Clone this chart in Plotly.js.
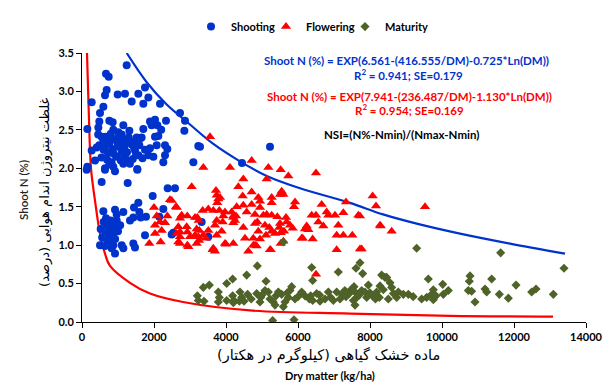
<!DOCTYPE html>
<html><head><meta charset="utf-8">
<script src="https://cdn.plot.ly/plotly-3.0.1.min.js"></script>
<style>html,body{margin:0;padding:0;background:#fff}#c{width:605px;height:386px}</style>
</head><body><div id="c"></div>
<script>
// ---------- data ----------
const shootDM = [1241,667,741,685,639,991,1194,1565,1750,1843,1380,1704,269,593,500,2167,2722,2861,2333,481,759,852,454,1889,2028,1935,2093,1148,148,870,1315,1704,2120,2028,1009,1102,546,759,1519,1657,2843,3278,2306,2370,2074,1889,1593,1426,1241,1056,269,407,2259,2306,1982,1843,1565,1472,1537,3093,148,361,639,870,1148,
480,600,760,880,1000,1130,1250,1380,1500,1620,1750,540,700,820,950,1080,1200,1330,1450,1560,1680,660,590,720,450,900,1050,1170,1300,1410,800,980,640,1100,850,760,2200,3231,4444,5222,
130,639,917,1537,546,1269,2380,2583,1963,1565,1444,2259,593,917,963,1148,1426,1593,1630,1778,2148,667,796,870,963,1333,519,704,778,824,639,731,870,1750,2537,3324,3509,500,639,870,824,1102,1148,1426,1472,917,2491,
700,760,820,890,950,600,740,680,800,920,560,1000,1060];
const shootN = [3.34,3.23,3.19,3.02,2.95,2.96,2.97,2.97,3.05,2.92,2.87,2.84,2.86,2.80,2.72,2.84,2.72,2.62,2.62,2.61,2.62,2.60,2.53,2.61,2.63,2.56,2.56,2.56,2.51,2.50,2.49,2.51,2.42,2.41,2.47,2.44,2.41,2.40,2.40,2.40,2.49,2.28,2.30,2.25,2.30,2.26,2.30,2.34,2.34,2.30,2.23,2.27,2.08,2.17,2.15,2.17,2.17,2.23,1.99,2.08,2.02,2.10,2.00,2.02,2.06,
2.30,2.24,2.33,2.19,2.28,2.36,2.21,2.31,2.17,2.39,2.24,2.14,2.11,2.08,2.15,2.10,2.13,2.06,2.26,2.31,2.13,2.41,2.37,2.20,2.44,2.38,2.43,2.27,2.40,2.12,2.45,2.34,2.28,2.20,2.25,2.05,2.50,2.29,2.07,2.28,
1.98,1.98,1.96,1.98,1.82,1.81,1.74,1.74,1.64,1.55,1.49,1.47,1.44,1.46,1.40,1.43,1.36,1.43,1.36,1.37,1.37,1.35,1.32,1.28,1.32,1.32,1.21,1.21,1.17,1.23,1.13,1.11,1.15,1.13,1.16,1.30,1.11,1.00,0.99,1.00,0.96,1.00,0.96,1.02,0.97,0.89,1.14,
1.27,1.25,1.30,1.20,1.24,1.30,1.05,1.08,1.10,1.08,1.10,1.18,1.26];

const flowerDM = [3556,3370,4111,4713,5176,5519,5731,6500,4481,5130,4343,5546,5500,5593,4713,4463,4898,4944,5269,5269,5917,5889,6657,7333,4713,4944,4296,4481,3833,3972,4157,4278,4204,4574,4805,5037,5130,5269,5426,5667,6380,6500,6796,6843,7028,7259,7676,6565,6704,7120,3907,4204,4481,4805,4870,5083,5204,5500,5481,5685,5778,5852,6241,6194,3880,4898,5269,5361,5519,5611,6287,7074,7259,7509,6102,6407,4528,4759,4944,5111,3972,4204,4759,4852,5222,5519,4620,7074,7722,
3047,3722,3741,3787,3759,2491,2611,2000,2074,2370,3352,3509,3648,3815,3204,3241,2722,2926,2167,2306,2028,2213,2676,2722,2907,3185,3259,3741,3694,3926,4204,4250,2630,2722,2926,3000,3139,3231,3370,3444,3741,3509,1870,2185,2676,2722,2926,2954,3185,3250,3648,3694,4000,
8074,8167,9528,8296,8602,7768,7722,8278,6500,3630,4806,5241,6130,5593,2444,2630,2028,2768,3139];
const flowerN = [2.41,2.01,2.01,2.10,2.01,1.98,1.90,1.94,1.86,1.86,1.76,1.70,1.66,1.66,1.69,1.64,1.62,1.57,1.62,1.55,1.56,1.50,1.53,1.56,1.53,1.49,1.50,1.52,1.62,1.43,1.43,1.38,1.36,1.43,1.40,1.39,1.40,1.39,1.37,1.36,1.39,1.39,1.43,1.39,1.39,1.42,1.39,1.30,1.25,1.26,1.30,1.29,1.23,1.28,1.30,1.26,1.23,1.28,1.23,1.30,1.26,1.22,1.25,1.21,1.18,1.18,1.18,1.15,1.16,1.18,1.20,1.13,1.13,1.13,1.09,1.08,1.09,1.09,1.08,1.13,1.02,1.02,1.00,0.99,0.94,1.02,0.92,0.94,0.95,
1.76,1.71,1.65,1.60,1.55,1.58,1.50,1.49,1.38,1.38,1.45,1.47,1.45,1.45,1.36,1.32,1.35,1.38,1.30,1.29,1.26,1.19,1.24,1.17,1.24,1.21,1.19,1.32,1.26,1.38,1.38,1.32,1.15,1.11,1.17,1.11,1.13,1.11,1.13,1.09,1.13,1.19,1.02,1.04,1.04,1.02,1.00,0.98,1.02,1.06,0.96,0.92,1.01,
1.64,1.51,1.50,1.25,1.18,0.95,1.38,1.26,0.62,0.94,1.00,0.94,1.09,1.05,1.59,1.49,1.15,1.39,1.36];

const maturityDM = [3204,3389,3537,3787,3815,3787,4019,4185,4019,4185,4222,4204,4389,4435,4500,4370,4574,4870,4852,4963,4944,5083,5176,5111,5222,5315,5389,5454,5546,5361,5593,5639,5824,5778,5732,5917,5296,5889,6102,6194,6352,6315,6407,6380,6407,6519,6611,6843,6907,6981,7120,7074,7213,7167,7333,7426,7491,7556,7583,7630,7611,7722,7796,7537,7583,7769,7861,7908,7954,8074,8185,8278,8259,8370,8324,8417,8556,8602,8463,8787,8926,9065,8741,8509,9620,9435,9574,9713,9759,9833,10037,10176,10020,9759,10778,10759,10732,10824,10917,11195,11241,11380,11593,11843,12056,12491,12611,13093,13389,11630,9296,5593,3231,3370,
4600,4700,5000,5700,6000,6600,6750,7300,7700,8000,8150,8650,9200];
const maturityN = [0.34,0.27,0.48,0.39,0.32,0.26,0.50,0.56,0.28,0.34,0.28,0.25,0.39,0.32,0.27,0.27,0.61,0.73,0.37,0.32,0.26,0.41,0.39,0.53,0.30,0.26,0.34,0.39,0.36,0.22,0.20,0.26,0.46,0.41,0.32,0.30,0.02,0.03,0.39,0.34,0.34,0.30,0.28,0.71,0.54,0.37,0.27,0.39,0.32,0.28,0.65,0.39,0.36,0.30,0.33,0.37,0.43,0.46,0.39,0.32,0.70,0.77,0.63,0.28,0.22,0.41,0.39,0.32,0.48,0.34,0.39,0.47,0.32,0.42,0.61,0.58,0.51,0.45,0.58,0.39,0.36,0.36,0.32,0.30,0.56,0.30,0.32,0.36,0.42,0.34,0.36,0.41,0.49,0.29,0.60,0.53,0.41,0.40,0.26,0.43,0.39,0.56,0.36,0.31,0.48,0.39,0.43,0.36,0.70,0.90,0.96,1.04,0.28,0.45,
0.36,0.30,0.35,0.38,0.33,0.35,0.30,0.41,0.35,0.38,0.30,0.37,0.33];

// fitted curves as drawn in the reference
const shootCurveDM = [1242,1797,2353,3000,3639,4389,5131,6056,7444,8361,9297,10500,11889,13417];
const shootCurveN  = [3.50,3.12,2.83,2.57,2.32,2.09,1.90,1.74,1.55,1.40,1.28,1.15,1.02,0.89];
const flowerCurveDM = [139,190,250,361,500,639,778,1333,1889,2806,4667,7444,10222,13083];
const flowerCurveN  = [3.50,2.70,2.00,1.58,1.15,0.89,0.73,0.51,0.37,0.26,0.15,0.11,0.08,0.07];

const seriesNames = ['Shooting','Flowering','Maturity'];
const xTicks = [0,2000,4000,6000,8000,10000,12000,14000];
const yTicks = [0,0.5,1,1.5,2,2.5,3,3.5];

const eq1 = 'Shoot N (%) = EXP(6.561-(416.555/DM)-0.725*Ln(DM))';
const eq1b = 'R<sup>2</sup> = 0.941; SE=0.179';
const eq2 = 'Shoot N (%) = EXP(7.941-(236.487/DM)-1.130*Ln(DM))';
const eq2b = 'R<sup>2</sup> = 0.954; SE=0.169';
const nsi = 'NSI=(N%-Nmin)/(Nmax-Nmin)';
const yTitleEn = 'Shoot N (%)';
const yTitleFa = 'غلظت نیتروژن اندام هوایی (درصد)';
const xTitleFa = 'ماده خشک گیاهی (کیلوگرم در هکتار)';
const xTitleEn = 'Dry matter (kg/ha)';

// ---------- chart ----------
const BLUE = 'rgb(0,51,204)', RED = '#FF0000', GREEN = '#4F6228';
const F = 'Lato, "Open Sans", sans-serif';
const traces = [
  {x: shootCurveDM, y: shootCurveN, mode:'lines', line:{color:BLUE, width:2.2, shape:'spline'}, showlegend:false, hoverinfo:'skip'},
  {x: flowerCurveDM, y: flowerCurveN, mode:'lines', line:{color:RED, width:2.2, shape:'spline'}, showlegend:false, hoverinfo:'skip'},
  {x: shootDM, y: shootN, mode:'markers', name: seriesNames[0], legend:'legend', marker:{symbol:'circle', size:8, color:BLUE}},
  {x: flowerDM, y: flowerN, mode:'markers', name: seriesNames[1], legend:'legend2', marker:{symbol:'triangle-up', size:9, color:RED}},
  {x: maturityDM, y: maturityN, mode:'markers', name: seriesNames[2], legend:'legend3', marker:{symbol:'diamond', size:7, color:GREEN}}
];
const px = p => (p-82)/504, py = p => (322-p)/275;
const ann = (t,x,y,size,color,extra) => Object.assign({text:t, xref:'paper', yref:'paper', x:px(x), y:py(y), showarrow:false, xanchor:'center', yanchor:'middle', font:{family:F, size:size, color:color, weight:700}}, extra||{});
const leg = (xp) => ({orientation:'h', x:px(xp), xanchor:'left', y:py(20), yanchor:'middle', font:{family:F, size:11, color:'#000', weight:700}, itemwidth:30, bgcolor:'rgba(0,0,0,0)', borderwidth:0});
const layout = {
  width:605, height:386, margin:{l:82, r:19, t:47, b:64},
  paper_bgcolor:'#fff', plot_bgcolor:'#fff',
  showlegend:true,
  legend: leg(191), legend2: leg(266), legend3: leg(345),
  xaxis:{range:[0,14000], tickvals:xTicks, ticktext:xTicks.map(String), showgrid:false, zeroline:false, showline:true, linecolor:'#000', linewidth:1, ticks:'outside', ticklen:5, tickcolor:'#000', tickfont:{family:F, size:11, color:'#000', weight:700}},
  yaxis:{range:[0,3.5], tickvals:yTicks, ticktext:yTicks.map(v=>v.toFixed(1)), showgrid:false, zeroline:false, showline:true, linecolor:'#000', linewidth:1, ticks:'outside', ticklen:5, tickcolor:'#000', tickfont:{family:F, size:11, color:'#000', weight:700}},
  annotations:[
    ann(eq1, 406, 55, 11.5, BLUE),
    ann(eq1b, 408, 69, 11.5, BLUE),
    ann(eq2, 409, 91, 11.5, RED),
    ann(eq2b, 409, 105, 11.5, RED),
    ann(nsi, 401, 130, 11.5, '#000'),
    ann(yTitleEn, 24, 187, 11, '#222', {textangle:-90, font:{family:F, size:11.5, color:'#222', weight:600}}),
    ann(yTitleFa, 45, 190, 13, '#000', {textangle:-90, font:{family:'"DejaVu Sans", sans-serif', size:13, color:'#000'}}),
    ann(xTitleFa, 328, 356, 14.5, '#000', {font:{family:'"DejaVu Sans", sans-serif', size:14.5, color:'#000'}}),
    ann(xTitleEn, 330, 377, 11, '#000')
  ]
};
Plotly.newPlot('c', traces, layout, {staticPlot:true, displayModeBar:false});
</script></body></html>
